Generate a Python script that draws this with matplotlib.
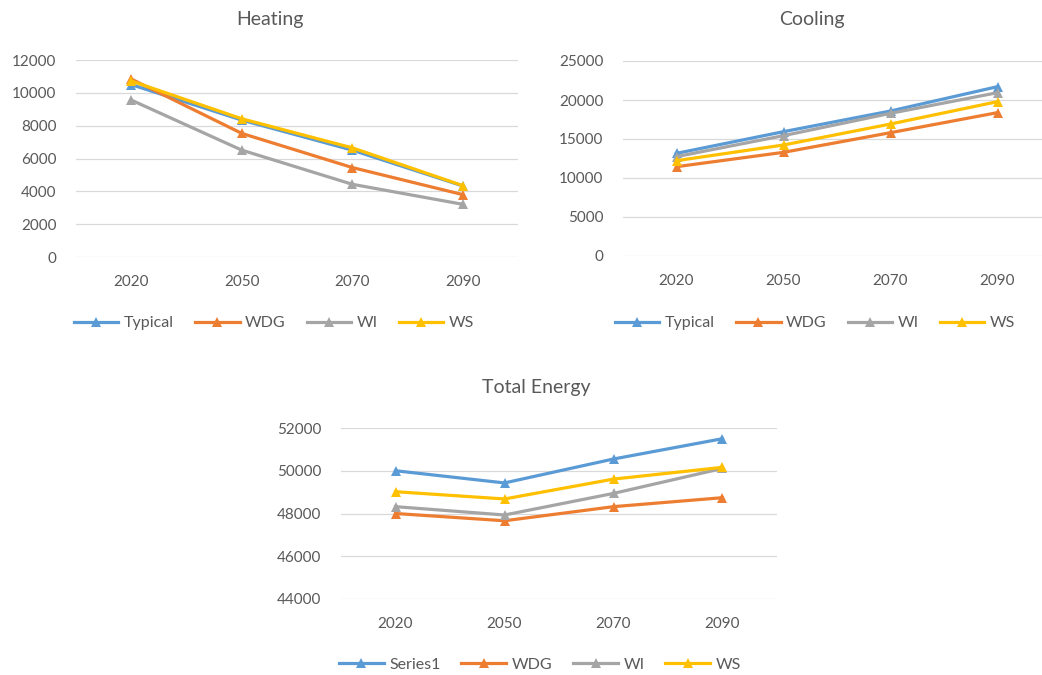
import matplotlib
matplotlib.use("Agg")
import matplotlib.pyplot as plt
from matplotlib.lines import Line2D

plt.rcParams['font.family'] = ['Lato', 'DejaVu Sans']

years = ["2020", "2050", "2070", "2090"]

heating_typical = [10500, 8340, 6510, 4330]
heating_wdg = [10840, 7530, 5450, 3800]
heating_wi = [9560, 6510, 4430, 3210]
heating_ws = [10720, 8420, 6650, 4350]

cooling_typical = [13160, 15940, 18590, 21710]
cooling_wdg = [11450, 13290, 15810, 18380]
cooling_wi = [12740, 15430, 18290, 20940]
cooling_ws = [12220, 14230, 16920, 19790]

total_series1 = [50000, 49430, 50550, 51500]
total_wdg = [48000, 47660, 48320, 48740]
total_wi = [48320, 47930, 48940, 50110]
total_ws = [49020, 48680, 49610, 50160]

BLUE, ORANGE, GRAY, GOLD = "#5B9BD5", "#ED7D31", "#A5A5A5", "#FFC000"
TEXT = "#595959"
GRID = "#D9D9D9"

W, H = 1042, 675
fig = plt.figure(figsize=(W / 100, H / 100), dpi=100)


def px_axes(left, top, right, bottom):
    return fig.add_axes([left / W, 1 - bottom / H, (right - left) / W, (bottom - top) / H])


def style(ax, ymin, ymax, step):
    ax.set_xlim(-0.5, len(years) - 0.5)
    ax.set_ylim(ymin, ymax)
    ax.set_yticks(range(ymin, ymax + 1, step))
    ax.set_xticks(range(len(years)))
    ax.set_xticklabels(years)
    ax.grid(axis="y", color=GRID, linewidth=0.9)
    ax.set_axisbelow(True)
    for s in ax.spines.values():
        s.set_visible(False)
    ax.tick_params(axis="both", length=0, labelsize=11, colors=TEXT)
    ax.tick_params(axis="y", pad=14)
    ax.tick_params(axis="x", pad=13)
    for lab in ax.get_yticklabels() + ax.get_xticklabels():
        lab.set_clip_on(False)


def draw(ax, series):
    x = range(len(years))
    for vals, color in series:
        ax.plot(x, vals, color=color, linewidth=2.3, marker="^", markersize=7.5,
                markeredgewidth=0, clip_on=False)


def legend(names, cx, cy):
    colors = [BLUE, ORANGE, GRAY, GOLD]
    handles = [Line2D([], [], color=c, linewidth=2.3, marker="^", markersize=6.5,
                      markeredgewidth=0) for c in colors]
    fig.legend(handles, names, loc="center", bbox_to_anchor=(cx / W, 1 - cy / H),
               ncol=4, frameon=False, fontsize=11.5, handlelength=2.8,
               handletextpad=0.35, columnspacing=1.3, labelcolor=TEXT)


# Heating
ax1 = px_axes(76, 60, 518, 257)
style(ax1, 0, 12000, 2000)
draw(ax1, [(heating_typical, BLUE), (heating_wdg, ORANGE),
           (heating_wi, GRAY), (heating_ws, GOLD)])
fig.text(270 / W, 1 - 19 / H, "Heating", ha="center", va="center", fontsize=14, color=TEXT)
legend(["Typical", "WDG", "WI", "WS"], 274, 323)

# Cooling
ax2 = px_axes(623, 61, 1051, 256)
style(ax2, 0, 25000, 5000)
draw(ax2, [(cooling_typical, BLUE), (cooling_wdg, ORANGE),
           (cooling_wi, GRAY), (cooling_ws, GOLD)])
fig.text(812 / W, 1 - 20 / H, "Cooling", ha="center", va="center", fontsize=14, color=TEXT)
legend(["Typical", "WDG", "WI", "WS"], 815, 323)

# Total energy
ax3 = px_axes(341, 428, 777, 599)
style(ax3, 44000, 52000, 2000)
draw(ax3, [(total_series1, BLUE), (total_wdg, ORANGE),
           (total_wi, GRAY), (total_ws, GOLD)])
fig.text(536 / W, 1 - 387 / H, "Total Energy", ha="center", va="center", fontsize=14, color=TEXT)
legend(["Series1", "WDG", "WI", "WS"], 540, 665)

fig.savefig("out.png", dpi=100, facecolor="white")
